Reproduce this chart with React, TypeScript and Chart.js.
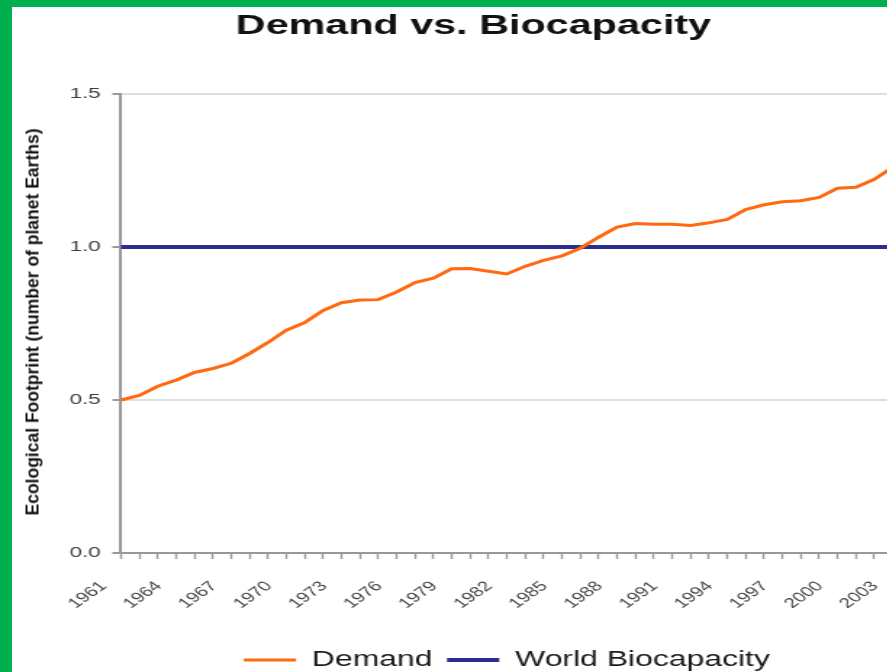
import React, { useEffect, useRef } from 'react';
import { Chart, registerables } from 'chart.js';

Chart.register(...registerables);

// ---- data ----
const YEARS = [
  1961, 1962, 1963, 1964, 1965, 1966, 1967, 1968, 1969, 1970,
  1971, 1972, 1973, 1974, 1975, 1976, 1977, 1978, 1979, 1980,
  1981, 1982, 1983, 1984, 1985, 1986, 1987, 1988, 1989, 1990,
  1991, 1992, 1993, 1994, 1995, 1996, 1997, 1998, 1999, 2000,
  2001, 2002, 2003,
];

const SHOWN_YEARS = [
  1961, 1964, 1967, 1970, 1973, 1976, 1979, 1982, 1985, 1988,
  1991, 1994, 1997, 2000, 2003,
];

const DEMAND = [
  0.5, 0.515, 0.545, 0.565, 0.59, 0.603, 0.62, 0.652, 0.688, 0.728,
  0.753, 0.793, 0.818, 0.827, 0.828, 0.853, 0.884, 0.898, 0.929, 0.93,
  0.921, 0.912, 0.937, 0.956, 0.971, 0.996, 1.032, 1.065, 1.077, 1.074,
  1.074, 1.07, 1.079, 1.09, 1.122, 1.138, 1.148, 1.151, 1.162, 1.192,
  1.195, 1.221, 1.26,
];

const BIOCAPACITY = [
  1, 1, 1, 1, 1, 1, 1, 1, 1, 1,
  1, 1, 1, 1, 1, 1, 1, 1, 1, 1,
  1, 1, 1, 1, 1, 1, 1, 1, 1, 1,
  1, 1, 1, 1, 1, 1, 1, 1, 1, 1,
  1, 1, 1,
];

const Y_MIN = 0;
const Y_MAX = 1.5;
const Y_STEP = 0.5;

const TITLE = 'Demand vs. Biocapacity';
const Y_TITLE = 'Ecological Footprint (number of planet Earths)';
const SERIES_NAMES = ['Demand', 'World Biocapacity'];

// ---- styles ----
const ORANGE = '#ff6a10';
const BLUE = '#2b2d92';
const GREEN = '#00b050';
const FONT = "'Liberation Sans', Arial, sans-serif";
const K = 1.45; // horizontal stretch of the picture
const CW = 653;
const CH = 690;

export default function App() {
  const ref = useRef<HTMLCanvasElement>(null);

  useEffect(() => {
    const chart = new Chart(ref.current as HTMLCanvasElement, {
      type: 'line',
      data: {
        labels: YEARS.map(String),
        datasets: [
          {
            label: SERIES_NAMES[0],
            data: DEMAND,
            borderColor: ORANGE,
            backgroundColor: ORANGE,
            borderWidth: 3,
            pointRadius: 0,
            tension: 0,
          },
          {
            label: SERIES_NAMES[1],
            data: BIOCAPACITY,
            borderColor: BLUE,
            backgroundColor: BLUE,
            borderWidth: 4,
            pointRadius: 0,
            tension: 0,
          },
        ],
      },
      options: {
        responsive: false,
        animation: false,
        devicePixelRatio: 1,
        layout: { padding: { left: 0, right: 0, top: 0, bottom: 9 } },
        plugins: {
          title: {
            display: true,
            text: TITLE,
            color: '#111',
            font: { family: FONT, size: 28.5, weight: 'bold' },
            padding: { top: 8.9, bottom: 50.9 },
          },
          legend: {
            position: 'bottom',
            fullSize: false,
            labels: {
              usePointStyle: true,
              pointStyle: 'line',
              pointStyleWidth: 36,
              padding: 10,
              color: '#1a1a1a',
              font: { family: FONT, size: 22 },
            },
          },
          tooltip: { enabled: false },
        },
        scales: {
          x: {
            grid: {
              drawOnChartArea: false,
              drawTicks: true,
              tickLength: 6,
              tickColor: '#999',
              tickWidth: 1.4,
              color: '#999',
            },
            border: { color: '#999', width: 2 },
            ticks: {
              autoSkip: false,
              minRotation: 45,
              maxRotation: 45,
              padding: 19,
              labelOffset: -12,
              color: '#444',
              font: { family: FONT, size: 14 },
              callback: (_v: any, i: number) =>
                SHOWN_YEARS.includes(YEARS[i]) ? String(YEARS[i]) : '',
            },
            afterFit: (s: any) => {
              s.height = 86;
            },
          },
          y: {
            min: Y_MIN,
            max: Y_MAX,
            grid: {
              color: '#dedede',
              lineWidth: 2,
              drawTicks: true,
              tickLength: 6,
              tickColor: '#999',
              tickWidth: 2,
            },
            border: { color: '#999', width: 2 },
            ticks: {
              stepSize: Y_STEP,
              padding: 8,
              color: '#3c3c3c',
              font: { family: FONT, size: 15.5 },
              callback: (v: any) => Number(v).toFixed(1),
            },
            afterFit: (s: any) => {
              s.width = 83.45;
            },
          },
          // empty right-hand axis that only reserves the space cut off at the right edge
          yRight: {
            position: 'right',
            display: true,
            grid: { display: false, drawTicks: false },
            border: { display: false },
            ticks: { display: false },
            afterFit: (s: any) => {
              s.width = 37.4;
            },
          },
        },
      },
    });
    return () => chart.destroy();
  }, []);

  return (
    <div
      style={{
        position: 'absolute',
        left: 0,
        top: 0,
        width: 887,
        height: 672,
        overflow: 'hidden',
        background: GREEN,
      }}
    >
      <div
        style={{
          position: 'absolute',
          left: 12,
          top: 7,
          right: 0,
          bottom: 0,
          background: '#fff',
        }}
      />
      <canvas
        ref={ref}
        width={CW}
        height={CH}
        style={{
          position: 'absolute',
          left: 0,
          top: 0,
          width: CW,
          height: CH,
          transform: `scaleX(${K})`,
          transformOrigin: '0 0',
        }}
      />
      <div
        style={{
          position: 'absolute',
          left: 33,
          top: 322,
          transform: 'translate(-50%, -50%) rotate(-90deg)',
          whiteSpace: 'nowrap',
          fontFamily: FONT,
          fontWeight: 'bold',
          fontSize: 17.5,
          color: '#111',
        }}
      >
        {Y_TITLE}
      </div>
    </div>
  );
}
